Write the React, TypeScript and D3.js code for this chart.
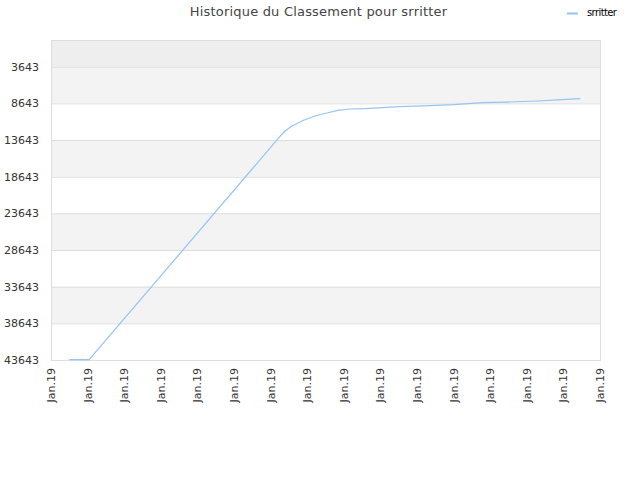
import React, { useRef, useEffect } from 'react';
import * as d3 from 'd3';

const width = 640;
const height = 480;

// Ranking history (lower rank value is better, axis reversed)
const dates = [
  '2019-01-02T00:00', '2019-01-03T02:00', '2019-01-13T12:00', '2019-01-13T19:00',
  '2019-01-14T03:00', '2019-01-14T18:30', '2019-01-15T10:00', '2019-01-16T02:00',
  '2019-01-16T16:00', '2019-01-17T08:00', '2019-01-18T04:00', '2019-01-20T00:00',
  '2019-01-21T17:00', '2019-01-23T00:00', '2019-01-23T19:00', '2019-01-24T14:30',
  '2019-01-25T22:00', '2019-01-27T14:30', '2019-01-28T22:00', '2019-01-29T22:00',
];
const ranks = [
  43600, 43600, 13190, 12410, 11800, 10980, 10360, 9960, 9610, 9410,
  9370, 9100, 8960, 8820, 8690, 8550, 8460, 8320, 8140, 8000,
];
const yTicks = [3643, 8643, 13643, 18643, 23643, 28643, 33643, 38643, 43643];
const yDomain = [0, 43643];
const xDomain = ['2019-01-01T00:00', '2019-01-31T00:00'];
const seriesName = 'srritter';
const title = 'Historique du Classement pour srritter';

const App: React.FC = () => {
  const svgRef = useRef<SVGSVGElement>(null);

  useEffect(() => {
    if (!svgRef.current) return;
    const svg = d3.select(svgRef.current);
    svg.selectAll('*').remove();

    const margin = { top: 40, right: 40, bottom: 120, left: 51 };
    const w = width - margin.left - margin.right;
    const h = height - margin.top - margin.bottom;
    const font = 'DejaVu Sans, Verdana, sans-serif';

    const parse = d3.timeParse('%Y-%m-%dT%H:%M');
    const data = dates.map((d, i) => ({ date: parse(d) as Date, rank: ranks[i] }));

    const x = d3.scaleTime()
      .domain(xDomain.map(d => parse(d) as Date))
      .range([0, w]);
    const y = d3.scaleLinear().domain(yDomain).range([0, h]);

    const g = svg.append('g').attr('transform', `translate(${margin.left},${margin.top})`);

    // Bands
    const edges = [yDomain[0], ...yTicks];
    for (let i = 0; i < edges.length - 1; i++) {
      const fill = i === 0 ? '#eeeeee' : (i % 2 === 1 ? '#f3f3f3' : '#ffffff');
      g.append('rect')
        .attr('x', 0)
        .attr('y', y(edges[i]))
        .attr('width', w)
        .attr('height', y(edges[i + 1]) - y(edges[i]))
        .attr('fill', fill);
    }

    // Grid lines
    yTicks.forEach(v => {
      g.append('line')
        .attr('x1', 0).attr('x2', w)
        .attr('y1', y(v) + 0.5).attr('y2', y(v) + 0.5)
        .attr('stroke', '#dddddd');
    });

    // Frame
    g.append('rect')
      .attr('x', 0.5).attr('y', 0.5)
      .attr('width', w).attr('height', h)
      .attr('fill', 'none')
      .attr('stroke', '#dddddd');

    // Y labels
    yTicks.forEach(v => {
      g.append('text')
        .attr('x', -12)
        .attr('y', y(v) + 4)
        .attr('text-anchor', 'end')
        .attr('font-family', font)
        .attr('font-size', '11px')
        .attr('fill', '#333')
        .text(String(v));
    });

    // X labels
    const xTicks = d3.timeDay.range(parse(xDomain[0]) as Date, d3.timeDay.offset(parse(xDomain[1]) as Date, 1), 2);
    const fmt = d3.timeFormat('%b.%y');
    xTicks.forEach(t => {
      g.append('text')
        .attr('transform', `translate(${x(t) + 4},${h + 8}) rotate(-90)`)
        .attr('text-anchor', 'end')
        .attr('font-family', font)
        .attr('font-size', '11px')
        .attr('fill', '#333')
        .text(fmt(t));
    });

    // Line
    const line = d3.line<{ date: Date; rank: number }>()
      .x(d => x(d.date))
      .y(d => y(d.rank));

    g.append('path')
      .datum(data)
      .attr('d', line)
      .attr('fill', 'none')
      .attr('stroke', '#94c4f2')
      .attr('stroke-width', 1.2);

    // Title
    svg.append('text')
      .attr('x', 318.5)
      .attr('y', 16)
      .attr('text-anchor', 'middle')
      .attr('font-family', font)
      .attr('font-size', '13px')
      .attr('letter-spacing', '0.2px')
      .attr('fill', '#444')
      .text(title);

    // Legend
    svg.append('line')
      .attr('x1', 567).attr('x2', 578)
      .attr('y1', 13.5).attr('y2', 13.5)
      .attr('stroke', '#94c4f2')
      .attr('stroke-width', 2);
    svg.append('text')
      .attr('x', 587)
      .attr('y', 16)
      .attr('font-family', font)
      .attr('font-size', '10px')
      .attr('letter-spacing', '-0.6px')
      .attr('fill', '#000')
      .text(seriesName);
  }, []);

  return (
    <svg
      ref={svgRef}
      width={width}
      height={height}
      style={{ position: 'absolute', left: 0, top: 0, background: '#fff' }}
    />
  );
};

export default App;
